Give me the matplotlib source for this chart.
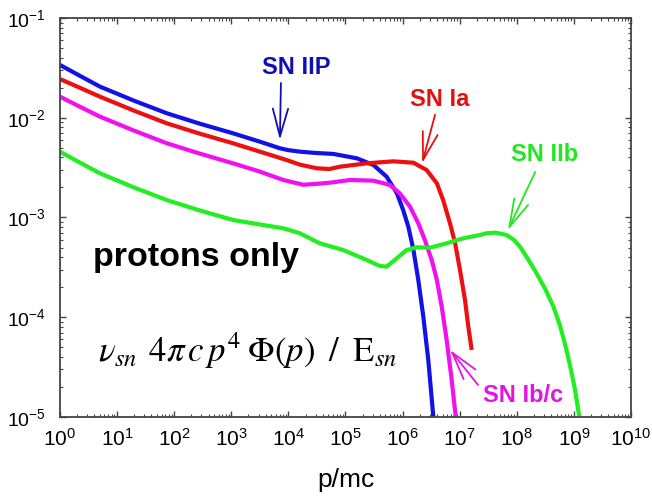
import numpy as np
import matplotlib
matplotlib.use("Agg")
from matplotlib import pyplot as plt
from matplotlib import ticker

plt.rcParams['font.family'] = ['Liberation Sans', 'DejaVu Sans']

# curves, as log10(p/mc) and log10(flux)
iip_lx = [0, 0.35, 0.70, 1.3, 1.87, 2.45, 3.03, 3.5, 3.85, 4.0, 4.2, 4.45, 4.79, 5.2, 5.49, 5.72, 5.90, 6.01, 6.10, 6.19, 6.275, 6.363, 6.45, 6.538]
iip_ly = [-1.471, -1.58, -1.688, -1.83, -1.955, -2.06, -2.156, -2.24, -2.306, -2.325, -2.340, -2.352, -2.363, -2.407, -2.474, -2.591, -2.757, -2.925, -3.092, -3.326, -3.627, -3.995, -4.429, -4.997]

ia_lx = [0, 0.35, 0.70, 1.3, 1.87, 2.45, 3.03, 3.5, 3.97, 4.2, 4.5, 4.72, 4.90, 5.37, 5.84, 6.19, 6.42, 6.60, 6.71, 6.83, 6.92, 7.005, 7.093, 7.151, 7.21]
ia_ly = [-1.612, -1.70, -1.789, -1.93, -2.056, -2.16, -2.256, -2.34, -2.424, -2.47, -2.507, -2.514, -2.491, -2.457, -2.437, -2.451, -2.524, -2.657, -2.825, -3.058, -3.259, -3.526, -3.827, -4.095, -4.328]

ibc_lx = [0, 0.35, 0.70, 1.3, 1.87, 2.45, 3.03, 3.5, 3.91, 4.26, 4.55, 4.73, 5.08, 5.49, 5.78, 5.95, 6.13, 6.275, 6.39, 6.51, 6.60, 6.685, 6.772, 6.86, 6.93]
ibc_ly = [-1.789, -1.89, -1.989, -2.13, -2.256, -2.36, -2.457, -2.54, -2.624, -2.672, -2.660, -2.651, -2.624, -2.631, -2.674, -2.757, -2.892, -3.058, -3.226, -3.426, -3.627, -3.894, -4.228, -4.629, -4.997]

iib_lx = [0, 0.35, 0.70, 1.3, 1.87, 2.45, 3.03, 3.5, 3.91, 4.2, 4.55, 4.96, 5.37, 5.60, 5.72, 5.90, 6.07, 6.25, 6.48, 6.77, 7.06, 7.36, 7.47, 7.62, 7.82, 7.95, 8.06, 8.20, 8.35, 8.50, 8.64, 8.76, 8.87, 8.95, 9.02, 9.094]
iib_ly = [-2.340, -2.45, -2.557, -2.70, -2.825, -2.93, -3.025, -3.07, -3.108, -3.158, -3.259, -3.326, -3.426, -3.486, -3.493, -3.409, -3.326, -3.299, -3.303, -3.259, -3.209, -3.175, -3.158, -3.152, -3.175, -3.225, -3.296, -3.42, -3.564, -3.72, -3.892, -4.09, -4.328, -4.53, -4.729, -4.997]

curves = [
    (iip_lx, iip_ly, '#1212e6'),
    (ia_lx, ia_ly, '#ee1010'),
    (ibc_lx, ibc_ly, '#f010f0'),
    (iib_lx, iib_ly, '#22ee22'),
]

# label text, text position, arrow tail, arrow tip, colour
labels = [
    ("SN IIP", (1.4e4, 0.032), (7.4e3, 0.0223), (7.1e3, 0.0060), '#1010b0'),
    ("SN Ia", (4.5e6, 0.0151), (3.7e6, 0.0107), (2.2e6, 0.0035), '#e41010'),
    ("SN IIb", (3.1e8, 0.00424), (2.1e8, 0.00286), (7.0e7, 0.00075), '#22e622'),
    ("SN Ib/c", (1.3e8, 1.66e-5), (2.1e7, 2.09e-5), (6.8e6, 4.7e-5), '#e414e4'),
]

fig = plt.figure(figsize=(6.52, 5.01), dpi=100)
ax = fig.add_axes([0.092, 0.1677, 0.8758, 0.7964])

for lx, ly, c in curves:
    ax.plot(10**np.array(lx), 10**np.array(ly), color=c, lw=3,
            solid_joinstyle='round', solid_capstyle='butt')

for name, tpos, tail, tip, c in labels:
    ax.text(tpos[0], tpos[1], name, color=c, fontsize=17, fontweight='bold', ha='center', va='center')
    ax.annotate('', xy=tip, xytext=tail,
                arrowprops=dict(arrowstyle='->, head_length=2.0, head_width=0.55',
                                mutation_scale=10, color=c, lw=1.3,
                                shrinkA=0, shrinkB=0))

ax.text(0.238, 0.40, "protons only", transform=ax.transAxes, fontsize=24.5,
        fontweight='bold', ha='center', va='center')
ax.text(0.0665, 0.138, r'$\nu_{sn}\;\,4\pi\,c\,p^{4}\;\Phi(p)\;\;/\;\;\mathrm{E}_{sn}$',
        transform=ax.transAxes, fontsize=25, ha='left', va='baseline',
        math_fontfamily='stix')

ax.set_xscale('log')
ax.set_yscale('log')
ax.set_xlim(1, 1e10)
ax.set_ylim(1e-5, 1e-1)
ax.xaxis.set_major_locator(ticker.LogLocator(base=10, numticks=12))
ax.xaxis.set_minor_locator(ticker.LogLocator(base=10, subs=np.arange(2, 10), numticks=12))
ax.xaxis.set_minor_formatter(ticker.NullFormatter())
ax.yaxis.set_minor_formatter(ticker.NullFormatter())
ax.tick_params(which='both', direction='in', top=True, right=True, color='#444444', labelsize=15)
ax.tick_params(which='major', length=4, width=1)
ax.tick_params(which='minor', length=2, width=0.8)
ax.tick_params(axis='x', which='major', pad=8)
ax.tick_params(axis='y', which='major', pad=10, labelsize=14)
for s in ax.spines.values():
    s.set_color('#444444')
    s.set_linewidth(1.3)

ax.set_xlabel("p/mc", fontsize=19, labelpad=13)

fig.savefig("out.png", dpi=100)
